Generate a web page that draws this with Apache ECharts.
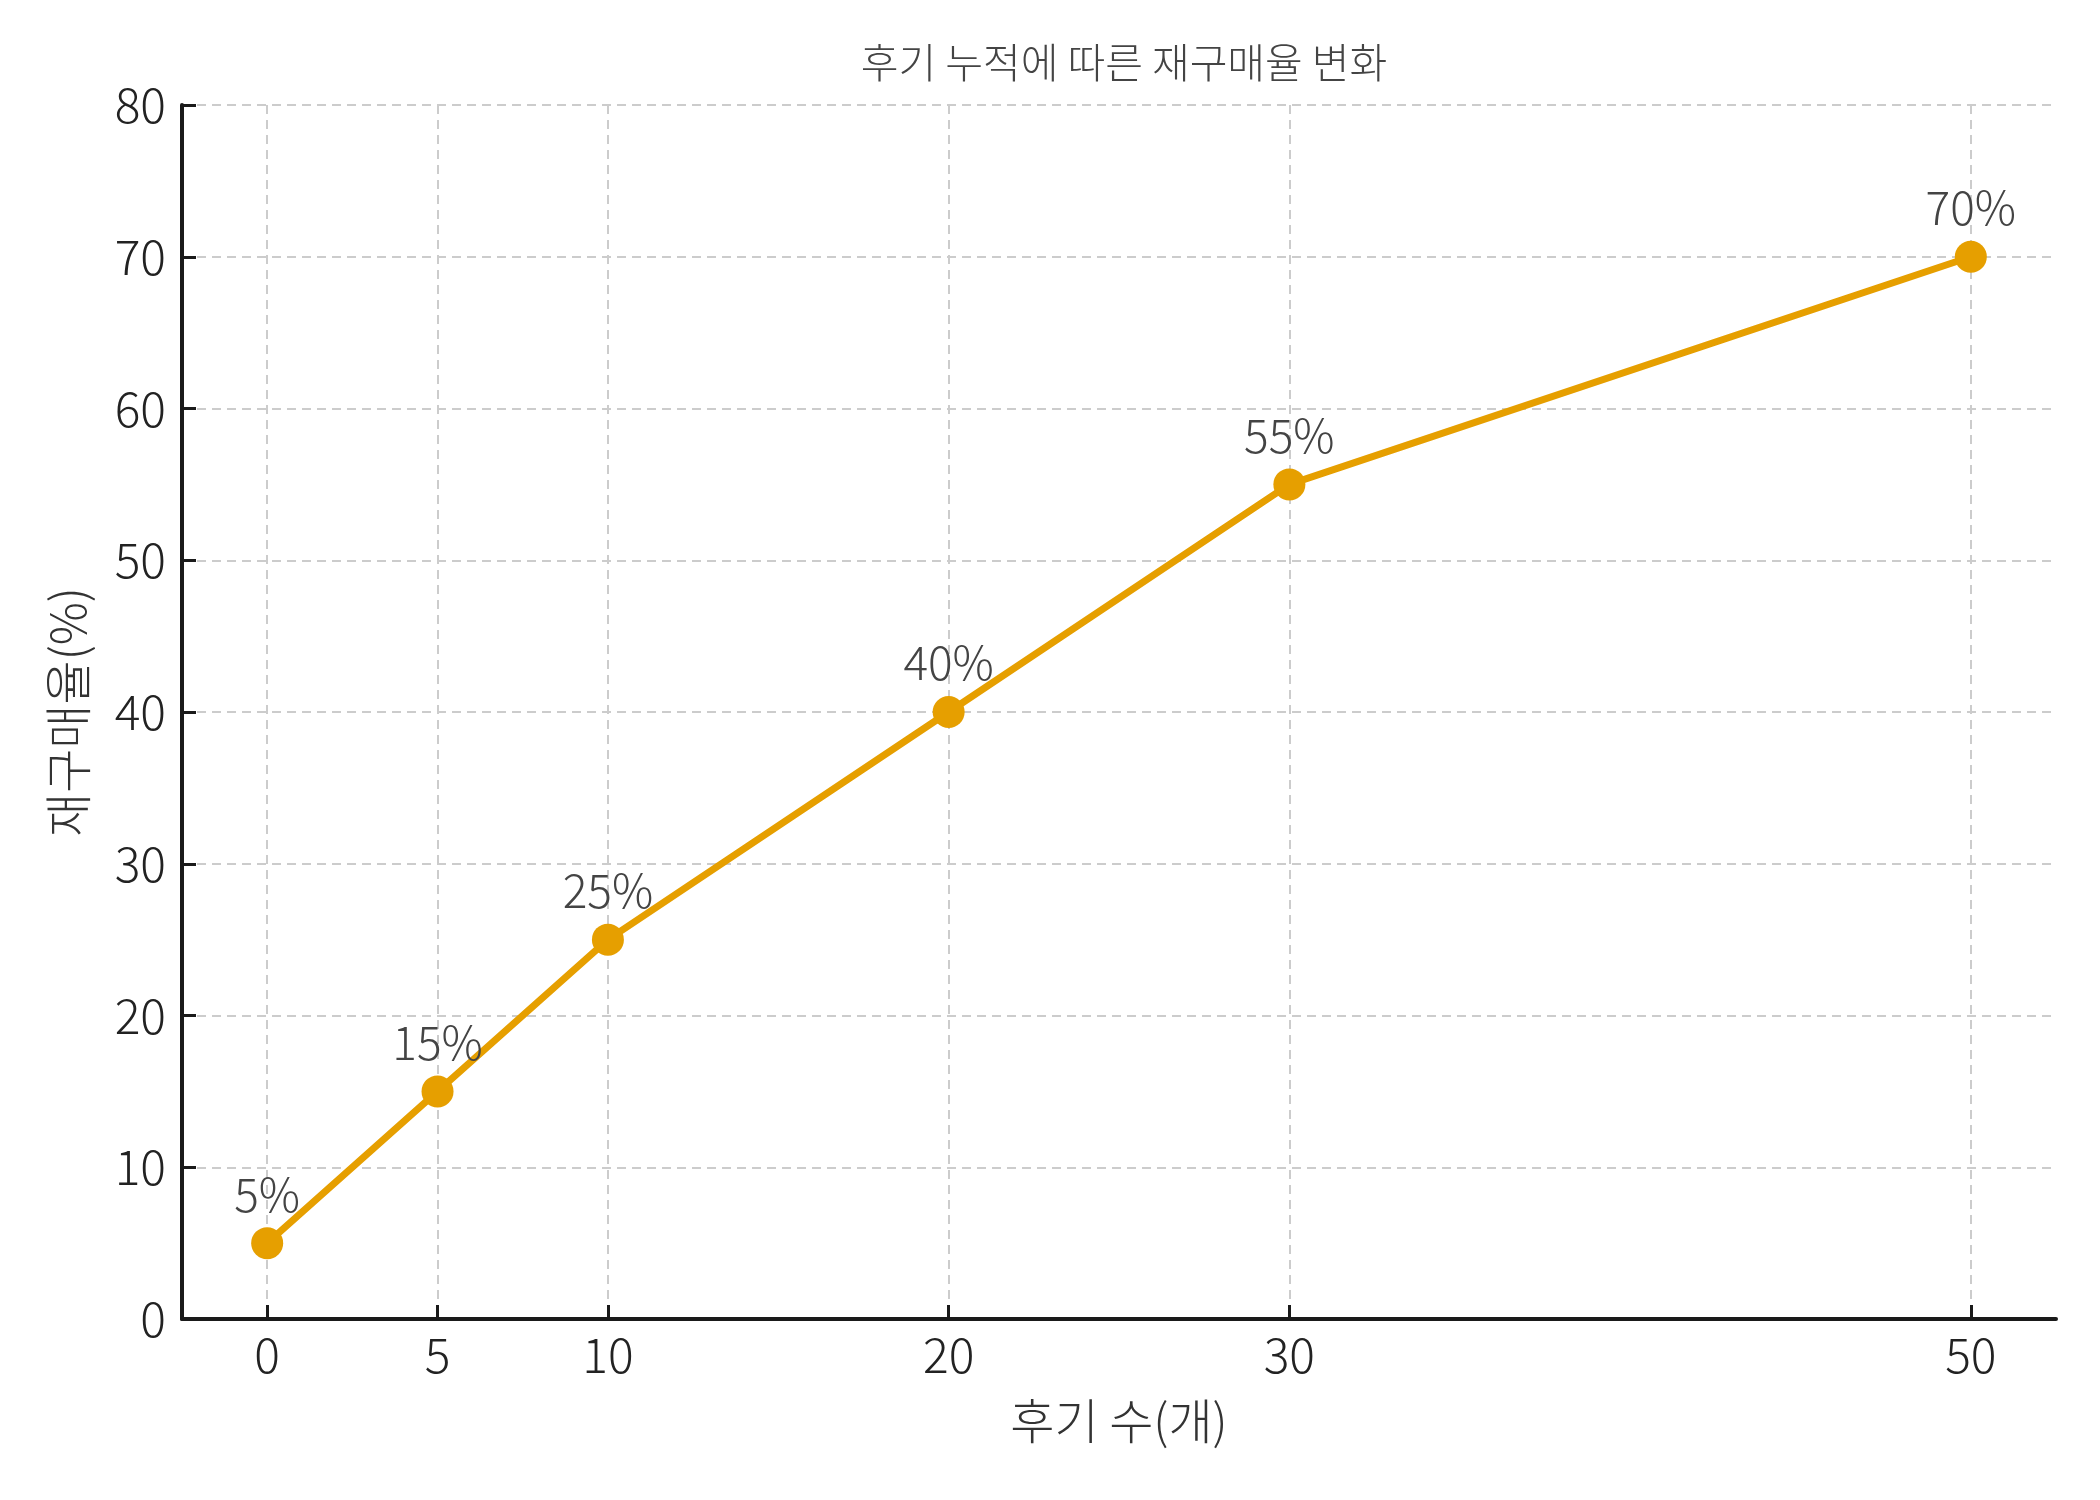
<!DOCTYPE html>
<html>
<head>
<meta charset="utf-8">
<script src="https://cdn.jsdelivr.net/npm/echarts@6/dist/echarts.min.js"></script>
<style>
html,body{margin:0;padding:0;background:#fff;}
#c{width:2100px;height:1500px;}
</style>
</head>
<body>
<div id="c"></div>
<script>
const reviewCounts = [0, 5, 10, 20, 30, 50];
const repurchaseRates = [5, 15, 25, 40, 55, 70];
const xTickValues = [0, 5, 10, 20, 30, 50];
const titleText = '후기 누적에 따른 재구매율 변화';
const xName = '후기 수(개)';
const yName = '재구매율(%)';

const FONT = '"Noto Sans CJK KR Light", "Noto Sans CJK KR", "Noto Sans", sans-serif';
const chart = echarts.init(document.getElementById('c'), null, {renderer: 'canvas'});
const points = reviewCounts.map((x, i) => [x, repurchaseRates[i]]);

chart.setOption({
  backgroundColor: '#ffffff',
  animation: false,
  graphic: [{
    type: 'text',
    x: 1124,
    y: 62,
    style: {
      text: titleText,
      align: 'center',
      verticalAlign: 'middle',
      fontFamily: FONT,
      fontSize: 41,
      fontWeight: 300,
      fill: '#444444'
    }
  }],
  grid: {left: 182, right: 44, top: 105, bottom: 181, containLabel: false},
  xAxis: {
    type: 'value',
    min: -2.5,
    max: 52.5,
    name: xName,
    nameLocation: 'middle',
    nameGap: 78,
    nameTextStyle: {fontFamily: FONT, fontSize: 48, fontWeight: 300, color: '#333333'},
    axisLine: {show: true, onZero: false, lineStyle: {color: '#1a1a1a', width: 4}},
    axisTick: {show: true, inside: true, length: 14, customValues: xTickValues, lineStyle: {color: '#1a1a1a', width: 3}},
    axisLabel: {customValues: xTickValues, margin: 12, fontFamily: FONT, fontSize: 48, fontWeight: 300, color: '#222222'},
    splitLine: {show: true, lineStyle: {color: '#cccccc', width: 2, type: [9, 6]}}
  },
  yAxis: {
    type: 'value',
    min: 0,
    max: 80,
    interval: 10,
    name: yName,
    nameLocation: 'middle',
    nameRotate: 90,
    nameGap: 90,
    nameTextStyle: {fontFamily: FONT, fontSize: 48, fontWeight: 300, color: '#333333'},
    axisLine: {show: true, onZero: false, lineStyle: {color: '#1a1a1a', width: 4}},
    axisTick: {show: true, inside: true, length: 14, lineStyle: {color: '#1a1a1a', width: 3}},
    axisLabel: {margin: 16, fontFamily: FONT, fontSize: 48, fontWeight: 300, color: '#222222'},
    splitLine: {show: true, lineStyle: {color: '#cccccc', width: 2, type: [9, 6]}}
  },
  series: [{
    type: 'line',
    data: points,
    symbol: 'circle',
    symbolSize: 32,
    lineStyle: {color: '#E69F00', width: 7},
    itemStyle: {color: '#E69F00'},
    label: {
      show: true,
      position: 'top',
      distance: 10,
      formatter: p => p.value[1] + '%',
      fontFamily: FONT,
      fontSize: 46,
      fontWeight: 300,
      color: '#444444'
    },
    z: 5
  }]
});
</script>
</body>
</html>
